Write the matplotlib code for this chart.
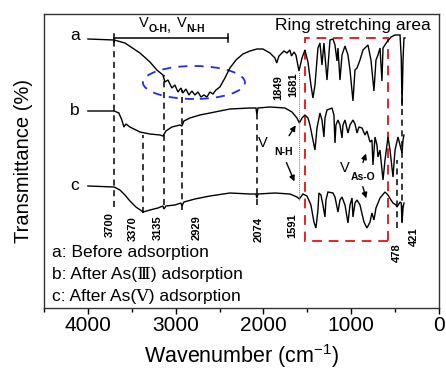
import matplotlib
matplotlib.use("Agg")
import matplotlib.pyplot as plt
from matplotlib.patches import Ellipse, Rectangle
from matplotlib.ticker import MultipleLocator

plt.rcParams['font.family'] = ['Liberation Sans', 'DejaVu Sans']

# ---------------- data ----------------
wn_a = [4000, 3700, 3578, 3407, 3293, 3214, 3145, 3122, 3088, 3043, 3009, 2974, 2940, 2917,
        2883, 2849, 2815, 2781, 2746, 2712, 2678, 2644, 2610, 2575, 2541, 2496, 2439, 2382,
        2313, 2234, 2154, 2074, 2006, 1926, 1869, 1849, 1823, 1766, 1732, 1698, 1681, 1652,
        1630, 1595, 1561, 1527, 1493, 1459, 1436, 1413, 1379, 1356, 1333, 1311, 1276, 1242,
        1208, 1185, 1162, 1151, 1128, 1105, 1071, 1037, 1014, 980, 957, 934, 900, 866, 809,
        775, 741, 718, 695, 672, 650, 638, 593, 547, 501, 444, 430, 421, 410, 399, 387]
t_a = [269, 268, 265, 255, 246, 238, 233, 226, 228, 220, 223, 216, 220, 215,
       219, 213, 217, 213, 216, 211, 213, 211, 216, 214, 218, 221, 230, 240,
       248, 254, 257, 259, 259, 255, 250, 245, 252, 257, 255, 258, 252, 256,
       253, 237, 250, 258, 246, 223, 210, 223, 260, 265, 243, 265, 228, 268,
       269, 263, 247, 260, 228, 253, 262, 253, 238, 207, 238, 240, 248, 258, 263,
       248, 217, 248, 253, 260, 227, 260, 266, 271, 273, 273, 250, 202, 248, 270, 270]

wn_b = [4000, 3700, 3647, 3613, 3590, 3567, 3521, 3407, 3293, 3179, 3145, 3111, 3043, 2952,
        2929, 2906, 2838, 2724, 2553, 2382, 2154, 2085, 2074, 2063, 1926, 1755, 1675, 1618,
        1591, 1561, 1527, 1493, 1470, 1436, 1413, 1390, 1356, 1333, 1311, 1299, 1276, 1219,
        1197, 1185, 1174, 1151, 1128, 1105, 1094, 1071, 1037, 1014, 980, 957, 934, 912, 877,
        843, 821, 786, 764, 752, 729, 707, 695, 672, 638, 615, 581, 558, 524, 501, 467,
        444, 421, 410, 399]
t_b = [197, 197, 195, 188, 181, 184, 181, 176, 174, 173, 172, 177, 181, 183,
       182, 187, 190, 193, 196, 199, 200, 200, 193, 200, 201, 200, 196, 190,
       185, 190, 193, 190, 183, 168, 158, 180, 195, 188, 171, 190, 198, 200,
       193, 165, 183, 188, 183, 170, 183, 188, 175, 183, 188, 184, 175, 181, 180,
       173, 177, 166, 168, 143, 171, 163, 151, 158, 128, 148, 171, 158, 131, 158, 171,
       163, 155, 168, 173]

wn_c = [4000, 3700, 3635, 3578, 3521, 3453, 3370, 3293, 3202, 3145, 3134, 3111, 3009, 2940,
        2929, 2906, 2781, 2610, 2382, 2154, 2085, 2074, 2063, 1869, 1698, 1618, 1591, 1550,
        1504, 1459, 1425, 1402, 1379, 1368, 1345, 1322, 1299, 1288, 1265, 1208, 1185, 1151,
        1128, 1105, 1071, 1037, 1014, 991, 980, 957, 934, 900, 855, 821, 786, 764, 741, 718,
        672, 615, 581, 547, 524, 490, 478, 444, 430, 421, 410, 399]
t_c = [122, 121, 118, 113, 107, 101, 96, 98, 100, 102, 99, 102, 103, 105,
       102, 106, 109, 112, 115, 114, 114, 110, 114, 115, 114, 111, 109, 114,
       112, 103, 86, 80, 98, 115, 113, 103, 91, 108, 116, 115, 111, 96,
       108, 111, 103, 85, 103, 110, 91, 105, 108, 103, 86, 80, 86, 95, 88, 100,
       110, 116, 113, 108, 105, 103, 101, 106, 105, 85, 100, 105]

# marked wavenumbers: (value, line top, line bottom)
mark_wn = [3700, 3370, 3135, 2929, 2074, 478, 421]
mark_top = [268, 173, 233, 218, 193, 148, 217]
mark_bot = [101, 95, 103, 98, 103, 80, 86]

# rotated number labels: text, x (wavenumber), top (T)
num_labels = ['3700', '3370', '3135', '2929', '2074', '1591', '478', '421', '1849', '1681']
num_x = [3749, 3487, 3202, 2758, 2051, 1675, 479, 285, 1835, 1664]
num_top = [96, 92, 93, 93, 91, 95, 65, 81, 233, 236]

curve_names = ['a', 'b', 'c']
legend_lines = ['a: Before adsorption', 'b: After As(\u2162) adsorption', 'c: After As(\u2164) adsorption']

# ---------------- figure ----------------
W, H = 446, 372
fig = plt.figure(figsize=(W / 100, H / 100), dpi=100)
ax = fig.add_axes([44 / W, 1 - 308 / H, (439 - 44) / W, (308 - 14) / H])
ax.set_xlim(4500, 0)
ax.set_ylim(0, 294)

for wn, t in [(wn_a, t_a), (wn_b, t_b), (wn_c, t_c)]:
    ax.plot(wn, t, color='black', lw=1.0, solid_joinstyle='miter')

dash = (0, (4, 3))
for w, top, bot in zip(mark_wn, mark_top, mark_bot):
    ax.plot([w, w], [bot, top], color='black', lw=1.1, linestyle=dash)

# 1591 dotted guide
ax.plot([1591, 1591], [108, 236], color='#777777', lw=0.7, linestyle=(0, (1, 1)))

for lab, x, y in zip(num_labels, num_x, num_top):
    ax.text(x, y, lab, rotation=90, ha='center', va='top', fontsize=8, fontweight='bold')

# curve letters
for name, y in zip(curve_names, [273, 198, 123]):
    ax.text(4150, y, name, ha='center', va='center', fontsize=12.5)

# legend lines
for txt, y in zip(legend_lines, [56, 34, 12]):
    ax.text(4410, y, txt, ha='left', va='center', fontsize=12.5,
            family=['Liberation Sans', 'DejaVu Serif'])

# bracket for O-H / N-H
ax.plot([3700, 2405], [270, 270], color='black', lw=1.1)
ax.plot([3700, 3700], [266, 274], color='black', lw=1.1)
ax.plot([2405, 2405], [266, 274], color='black', lw=1.1)
ax.text(3362, 285, 'V', ha='center', va='center', fontsize=10.5)
ax.text(3202, 279, 'O-H', ha='center', va='center', fontsize=7.5, fontweight='bold')
ax.text(3075, 281, ',', ha='center', va='center', fontsize=10.5)
ax.text(2935, 285, 'V', ha='center', va='center', fontsize=10.5)
ax.text(2769, 279, 'N-H', ha='center', va='center', fontsize=7.5, fontweight='bold')

ax.text(986, 283, 'Ring stretching area', ha='center', va='center', fontsize=12.5)

# ellipse and red box
ax.add_patch(Ellipse((2792, 225.5), 1162, 33, fill=False, edgecolor='#1f2de8', lw=1.3,
                     linestyle=(0, (5, 4))))
ax.add_patch(Rectangle((580, 67), 950, 203, fill=False, edgecolor='#e8202a', lw=1.4,
                       linestyle=(0, (5, 3.5))))

# V N-H annotation
ax.text(2006, 165, 'V', ha='center', va='center', fontsize=10.5)
ax.text(1775, 156, 'N-H', ha='center', va='center', fontsize=7.5, fontweight='bold')
arrow_kw = dict(arrowstyle='-|>', color='black', lw=1.0, mutation_scale=8)
ax.annotate('', xy=(1615, 185), xytext=(1725, 170), arrowprops=arrow_kw)
ax.annotate('', xy=(1635, 124), xytext=(1750, 148), arrowprops=arrow_kw)

# V As-O annotation
ax.text(1071, 140, 'V', ha='center', va='center', fontsize=10.5)
ax.text(866, 131, 'As-O', ha='center', va='center', fontsize=7.5, fontweight='bold')
ax.annotate('', xy=(820, 157), xytext=(877, 143), arrowprops=arrow_kw)
ax.annotate('', xy=(820, 107), xytext=(877, 124), arrowprops=arrow_kw)

# axes styling
ax.set_yticks([])
ax.xaxis.set_major_locator(MultipleLocator(1000))
ax.xaxis.set_minor_locator(MultipleLocator(500))
ax.tick_params(axis='x', which='major', direction='out', length=4, width=1, labelsize=15, pad=2)
ax.tick_params(axis='x', which='minor', direction='out', length=3, width=1)
for s in ax.spines.values():
    s.set_linewidth(1.0)
    s.set_color('#333333')
ax.set_xlabel('Wavenumber (cm$^{\\mathregular{-1}}$)', fontsize=15.5, labelpad=5)
ax.set_ylabel('Transmittance (%)', fontsize=14.5, labelpad=8)

fig.savefig('out.png', dpi=100)
